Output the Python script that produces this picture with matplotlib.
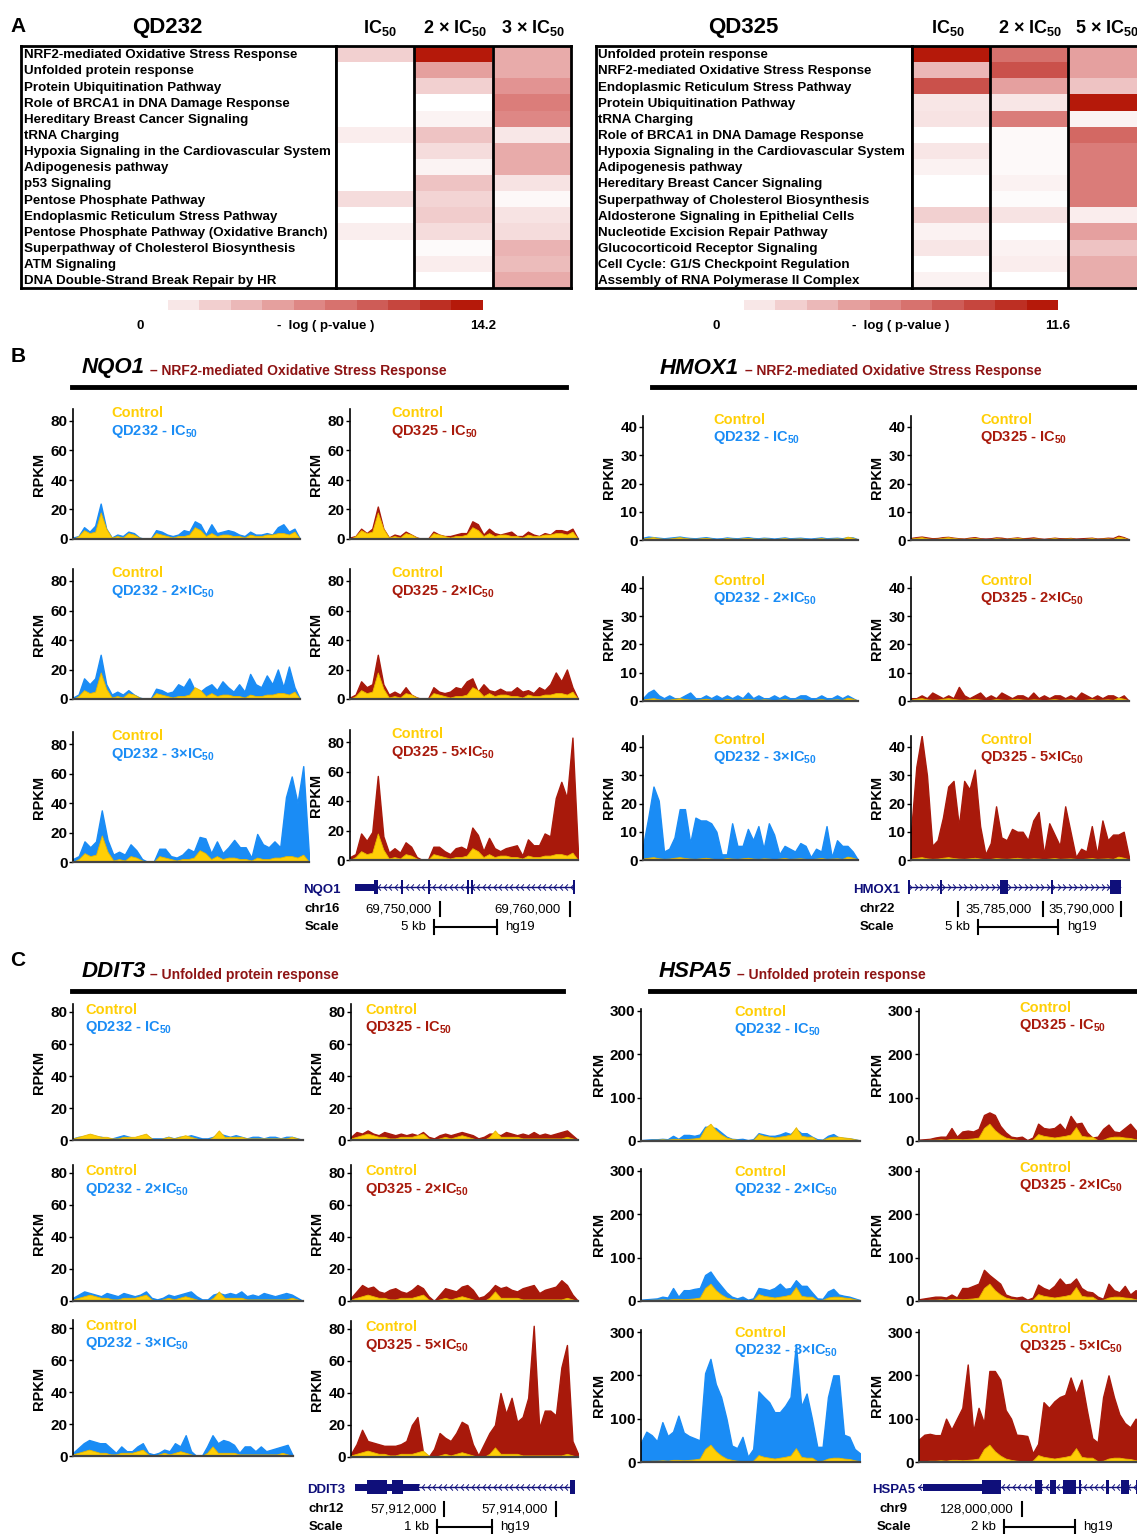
import numpy as np
import matplotlib
matplotlib.use('Agg')
import matplotlib.pyplot as plt
from matplotlib.colors import LinearSegmentedColormap
from matplotlib.patches import Rectangle
from matplotlib.lines import Line2D
from matplotlib.path import Path

plt.rcParams['font.family'] = ['Liberation Sans', 'DejaVu Sans']
plt.rcParams['mathtext.fontset'] = 'custom'
plt.rcParams['mathtext.rm'] = 'Liberation Sans'
plt.rcParams['mathtext.bf'] = 'Liberation Sans:bold'
plt.rcParams['mathtext.it'] = 'Liberation Sans:italic'

# ---------------- data: panel A (-log p-values) ----------------
qd232_pathways = [
    'NRF2-mediated Oxidative Stress Response', 'Unfolded protein response',
    'Protein Ubiquitination Pathway', 'Role of BRCA1 in DNA Damage Response',
    'Hereditary Breast Cancer Signaling', 'tRNA Charging',
    'Hypoxia Signaling in the Cardiovascular System', 'Adipogenesis pathway',
    'p53 Signaling', 'Pentose Phosphate Pathway', 'Endoplasmic Reticulum Stress Pathway',
    'Pentose Phosphate Pathway (Oxidative Branch)', 'Superpathway of Cholesterol Biosynthesis',
    'ATM Signaling', 'DNA Double-Strand Break Repair by HR']
qd232_ic50 = [2.8, 0, 0, 0, 0, 1.1, 0, 0, 0, 2.1, 0, 1.0, 0, 0, 0]
qd232_2x = [14.2, 5.7, 2.8, 0, 0.7, 3.6, 2.1, 0.7, 3.6, 2.6, 3.1, 2.1, 0.3, 1.1, 0]
qd232_3x = [5.0, 5.0, 6.4, 7.8, 7.1, 1.4, 5.0, 5.0, 1.7, 0.4, 1.7, 2.1, 4.5, 4.0, 5.0]
qd232_max = 14.2

qd325_pathways = [
    'Unfolded protein response', 'NRF2-mediated Oxidative Stress Response',
    'Endoplasmic Reticulum Stress Pathway', 'Protein Ubiquitination Pathway', 'tRNA Charging',
    'Role of BRCA1 in DNA Damage Response', 'Hypoxia Signaling in the Cardiovascular System',
    'Adipogenesis pathway', 'Hereditary Breast Cancer Signaling',
    'Superpathway of Cholesterol Biosynthesis', 'Aldosterone Signaling in Epithelial Cells',
    'Nucleotide Excision Repair Pathway', 'Glucocorticoid Receptor Signaling',
    'Cell Cycle: G1/S Checkpoint Regulation', 'Assembly of RNA Polymerase II Complex']
qd325_ic50 = [11.6, 3.5, 8.7, 1.2, 1.4, 0, 1.2, 0.6, 0, 0, 2.3, 0.6, 1.2, 0, 0.6]
qd325_2x = [7.0, 8.7, 4.6, 1.2, 6.4, 0.3, 0.3, 0.3, 0.6, 0.2, 1.4, 0, 0.6, 0.9, 0]
qd325_5x = [4.6, 4.6, 2.9, 11.6, 0.6, 7.5, 6.4, 6.4, 6.4, 6.4, 0.9, 4.6, 2.9, 4.0, 4.0]
qd325_max = 11.6

# ---------------- data: panels B / C (RPKM tracks) ----------------
nqo1_ctrl = [0, 2, 6, 4, 5, 18, 7, 1, 2, 1, 4, 3, 1, 0, 0, 4, 3, 2, 1, 2,
             2, 3, 8, 6, 2, 4, 2, 3, 3, 2, 2, 1, 3, 2, 2, 3, 3, 4, 4, 3, 5, 0]
nqo1_qd232 = [
    [1, 2, 8, 5, 9, 24, 7, 1, 3, 2, 5, 4, 1, 0, 0, 6, 5, 3, 2, 3,
     6, 5, 12, 10, 3, 10, 4, 5, 6, 5, 3, 2, 5, 3, 3, 4, 3, 8, 10, 5, 7, 0],
    [1, 3, 14, 10, 14, 30, 10, 3, 5, 3, 6, 3, 1, 0, 0, 7, 6, 4, 5, 10,
     8, 14, 6, 5, 8, 10, 6, 12, 8, 5, 10, 5, 17, 10, 8, 16, 10, 20, 8, 22, 8, 0],
    [2, 4, 14, 10, 14, 35, 15, 5, 7, 5, 12, 8, 2, 0, 0, 9, 9, 4, 3, 5,
     9, 7, 17, 16, 6, 14, 6, 10, 15, 10, 10, 3, 19, 12, 10, 14, 10, 44, 58, 40, 65, 4]]
nqo1_qd325 = [
    [1, 2, 7, 4, 7, 22, 7, 1, 3, 2, 5, 3, 1, 0, 0, 5, 3, 2, 2, 3,
     4, 4, 12, 10, 3, 7, 4, 3, 4, 5, 2, 2, 5, 3, 2, 4, 3, 6, 6, 5, 7, 0],
    [1, 3, 12, 8, 10, 30, 10, 3, 5, 3, 8, 3, 1, 0, 0, 8, 5, 4, 5, 8,
     7, 12, 14, 5, 10, 6, 5, 7, 5, 5, 8, 5, 6, 4, 8, 6, 10, 18, 12, 20, 8, 0],
    [2, 4, 18, 13, 19, 57, 16, 5, 8, 5, 12, 9, 2, 0, 0, 9, 9, 6, 4, 8,
     9, 7, 22, 17, 6, 15, 8, 6, 8, 9, 10, 3, 14, 10, 10, 18, 16, 42, 53, 42, 83, 5]]

hmox1_ctrl = [0.5, 0.8, 1, 0.6, 0.4, 0.5, 0.8, 1, 0.7, 0.5, 0.4, 0.6, 0.8, 0.5, 0.3, 0.4,
              0.7, 0.5, 0.4, 0.6, 0.8, 0.5, 0.4, 0.6, 0.5, 0.3, 0.5, 0.7, 0.4, 0.5, 0.6,
              0.4, 0.3, 0.5, 0.7, 0.4, 0.5, 0.6, 0.4, 1.2, 0.8, 0.2]
hmox1_qd232 = [
    [0.8, 1.2, 1, 0.8, 0.6, 0.8, 1, 1.2, 0.9, 0.7, 0.6, 0.8, 1, 0.7, 0.5, 0.6, 0.9, 0.7,
     0.6, 0.8, 1, 0.7, 0.6, 0.8, 0.7, 0.5, 0.7, 0.9, 0.6, 0.7, 0.8, 0.6, 0.5, 0.7, 0.9,
     0.6, 0.7, 0.8, 0.6, 1, 0.9, 0.2],
    [1, 3, 4, 2, 1, 2, 1, 1, 2, 3, 1, 1, 2, 1, 2, 1, 2, 1, 2, 1,
     3, 1, 2, 1, 1, 2, 1, 2, 1, 1, 2, 2, 1, 1, 2, 1, 1, 2, 1, 2, 1, 0],
    [5, 15, 26, 21, 3, 4, 8, 18, 18, 6, 15, 14, 14, 13, 10, 2, 2, 13, 5, 5,
     11, 7, 12, 4, 13, 9, 2, 5, 4, 3, 6, 5, 1, 4, 3, 12, 1, 7, 5, 5, 3, 0]]
hmox1_qd325 = [
    [0.7, 1, 1.2, 0.9, 0.6, 0.7, 1, 1.1, 0.8, 0.6, 0.5, 0.8, 1, 0.6, 0.5, 0.6, 0.9, 0.8,
     0.5, 0.7, 0.9, 0.6, 0.7, 0.9, 0.6, 0.4, 0.6, 0.8, 0.6, 0.6, 0.7, 0.5, 0.6, 0.7, 0.8,
     0.5, 0.6, 0.8, 0.7, 1.5, 1, 0.2],
    [1, 1, 2, 1, 3, 2, 1, 2, 1, 5, 2, 1, 2, 3, 1, 2, 1, 3, 2, 1,
     2, 2, 1, 3, 1, 2, 1, 2, 2, 1, 2, 1, 3, 2, 1, 2, 1, 2, 2, 1, 2, 0],
    [10, 33, 44, 30, 5, 7, 15, 26, 28, 12, 28, 25, 32, 12, 2, 6, 19, 8, 7, 11,
     10, 10, 7, 14, 17, 2, 13, 9, 5, 19, 10, 1, 4, 3, 12, 2, 14, 7, 9, 9, 10, 1]]

ddit3_ctrl = [1, 2, 3, 4, 3, 2, 2, 1, 1, 2, 2, 2, 3, 4, 1, 0, 1, 2, 1, 2,
              3, 2, 1, 0, 0, 2, 6, 2, 2, 2, 2, 1, 1, 1, 1, 1, 1, 1, 1, 2, 1, 0]
ddit3_qd232 = [
    [1, 2, 2, 3, 2, 2, 1, 1, 2, 3, 2, 1, 2, 3, 1, 1, 1, 2, 1, 2,
     2, 3, 2, 1, 1, 2, 4, 3, 2, 3, 2, 1, 2, 2, 1, 2, 2, 1, 2, 2, 1, 0],
    [2, 4, 6, 5, 4, 3, 5, 4, 3, 5, 4, 3, 4, 6, 2, 1, 2, 4, 3, 4,
     5, 6, 3, 1, 1, 4, 5, 4, 5, 4, 6, 3, 4, 3, 5, 4, 3, 4, 5, 4, 2, 0],
    [2, 5, 8, 10, 9, 8, 8, 5, 2, 6, 3, 3, 6, 8, 2, 1, 2, 4, 3, 8,
     6, 13, 3, 0, 0, 6, 13, 8, 10, 9, 7, 2, 6, 6, 3, 6, 3, 4, 5, 6, 7, 0]]
ddit3_qd325 = [
    [2, 5, 4, 6, 4, 3, 5, 4, 3, 4, 3, 4, 3, 5, 2, 1, 3, 4, 3, 4,
     5, 4, 3, 1, 2, 4, 4, 3, 5, 4, 3, 4, 3, 5, 3, 4, 3, 4, 5, 6, 3, 0],
    [2, 6, 10, 8, 9, 6, 5, 7, 8, 6, 5, 7, 10, 8, 3, 0, 4, 8, 7, 6,
     9, 10, 7, 2, 3, 6, 10, 8, 9, 7, 6, 8, 9, 10, 5, 7, 8, 9, 13, 10, 4, 0],
    [2, 8, 17, 10, 9, 8, 7, 7, 7, 8, 10, 20, 25, 3, 0, 5, 15, 12, 10, 15,
     22, 20, 8, 1, 8, 15, 20, 40, 27, 37, 22, 25, 37, 82, 18, 29, 29, 26, 56, 70, 10, 2]]

hspa5_ctrl = [2, 2, 3, 3, 4, 3, 5, 5, 4, 5, 6, 8, 30, 40, 25, 15, 8, 5, 3, 2,
              1, 3, 16, 12, 10, 8, 10, 12, 15, 32, 12, 10, 10, 2, 3, 8, 10, 10, 8, 7, 4, 2]
hspa5_qd232 = [
    [2, 3, 4, 4, 5, 4, 12, 5, 14, 14, 12, 15, 33, 32, 30, 20, 10, 5, 4, 5,
     2, 4, 18, 15, 12, 12, 15, 20, 16, 28, 18, 18, 10, 4, 3, 12, 16, 8, 7, 6, 4, 1],
    [3, 4, 5, 6, 10, 8, 30, 10, 25, 25, 28, 30, 60, 68, 50, 35, 20, 10, 6, 10,
     3, 6, 30, 28, 25, 30, 40, 28, 30, 48, 35, 35, 20, 6, 5, 22, 28, 15, 12, 10, 6, 2],
    [45, 70, 62, 48, 92, 60, 70, 107, 68, 60, 55, 50, 205, 238, 180, 150, 100, 38, 32, 58,
     12, 30, 163, 150, 138, 115, 115, 130, 150, 272, 128, 158, 100, 35, 35, 150, 200, 200,
     63, 58, 30, 20]]
hspa5_qd325 = [
    [3, 4, 5, 8, 10, 10, 30, 10, 22, 24, 22, 28, 60, 66, 60, 35, 20, 10, 8, 10,
     2, 8, 40, 30, 28, 30, 40, 25, 58, 40, 42, 20, 8, 10, 28, 38, 22, 20, 30, 40, 25, 15],
    [4, 6, 8, 10, 10, 8, 15, 8, 30, 30, 35, 40, 72, 60, 50, 40, 15, 10, 8, 10,
     3, 8, 38, 30, 25, 35, 52, 38, 40, 52, 30, 22, 20, 10, 5, 40, 25, 20, 35, 15, 25, 15],
    [52, 63, 65, 62, 62, 100, 75, 100, 125, 225, 70, 125, 90, 210, 210, 190, 120, 100, 63, 62,
     60, 20, 42, 138, 125, 140, 150, 155, 195, 158, 190, 120, 55, 45, 150, 200, 150, 110, 90, 80,
     100, 90]]

qd232_labels = ['QD232 - IC', 'QD232 - 2×IC', 'QD232 - 3×IC']
qd325_labels = ['QD325 - IC', 'QD325 - 2×IC', 'QD325 - 5×IC']

# gene models: (start, end, kind) as fraction of the drawn locus
nqo1_exons = [(0, 0.086, 'utr'), (0.086, 0.105, 'cds'), (0.21, 0.22, 'cds'), (0.33, 0.34, 'cds'),
              (0.51, 0.52, 'cds'), (0.525, 0.535, 'cds'), (0.99, 1.0, 'cds')]
hmox1_exons = [(0, 0.01, 'cds'), (0.15, 0.16, 'cds'), (0.43, 0.47, 'cds'),
               (0.67, 0.68, 'cds'), (0.95, 1.0, 'cds')]
ddit3_exons = [(0, 0.055, 'utr'), (0.055, 0.145, 'cds'), (0.145, 0.17, 'utr'),
               (0.17, 0.218, 'cds'), (0.218, 0.29, 'utr'), (0.975, 1.0, 'cds')]
hspa5_exons = [(0.02, 0.28, 'utr'), (0.28, 0.365, 'cds'), (0.515, 0.545, 'cds'),
               (0.58, 0.61, 'cds'), (0.64, 0.695, 'cds'), (0.71, 0.716, 'cds'),
               (0.83, 0.843, 'cds'), (0.896, 0.93, 'cds'), (0.96, 1.0, 'cds')]

BLUE = '#1A8CF5'
RED = '#A8190B'
GOLD = '#FFCF06'
NAVY = '#0F0F7A'
TITLE_RED = '#8E1414'

heat_cmap = LinearSegmentedColormap.from_list(
    'pval', ['#FFFFFF', '#EFC4C4', '#DF8886', '#CB524C', '#B5190A'])

W, H = 1137, 1534
fig = plt.figure(figsize=(W / 100, H / 100), dpi=100)


def ax_px(x0, y0, x1, y1):
    return fig.add_axes([x0 / W, 1 - y1 / H, (x1 - x0) / W, (y1 - y0) / H])


def txt(x, y, s, **kw):
    kw.setdefault('va', 'center')
    fig.text(x / W, 1 - y / H, s, **kw)


def fline(x0, y0, x1, y1, **kw):
    fig.add_artist(Line2D([x0 / W, x1 / W], [1 - y0 / H, 1 - y1 / H], **kw))


def sub50(s):
    return s + r'$_{\mathbf{50}}$'


# ---------------- panel A ----------------
def heat_table(x0, xd, x1, y0, y1, names, cols, vmax):
    n = len(names)
    ax = ax_px(x0, y0, xd, y1)
    ax.set_xlim(0, 1)
    ax.set_ylim(n, 0)
    ax.set_xticks([])
    ax.set_yticks([])
    for s in ax.spines.values():
        s.set_linewidth(2)
    for i, name in enumerate(names):
        ax.text(2.5 / (xd - x0), i + 0.58, name, va='center', ha='left',
                fontsize=9.6, fontweight='bold')
    ah = ax_px(xd, y0, x1, y1)
    vals = np.array(cols).T
    ah.imshow(vals, cmap=heat_cmap, vmin=0, vmax=vmax, aspect='auto',
              interpolation='nearest', extent=(0, len(cols), n, 0))
    for k in range(1, len(cols)):
        ah.axvline(k, color='black', lw=2)
    ah.set_xticks([])
    ah.set_yticks([])
    for s in ah.spines.values():
        s.set_linewidth(2)


def colorbar(x0, x1, y, vmax):
    ax = ax_px(x0, y - 5, x1, y + 5)
    steps = np.arange(1, 11) / 10
    ax.imshow(steps[None, :], cmap=heat_cmap, vmin=0, vmax=1, aspect='auto',
              interpolation='nearest', extent=(0, 10, 0, 1))
    ax.axis('off')
    txt(x0 - 28, y + 21, '0', ha='center', fontsize=9.5, fontweight='bold')
    txt((x0 + x1) / 2, y + 21, '-  log ( p-value )', ha='center', fontsize=9.5, fontweight='bold')
    txt(x1, y + 21, f'{vmax}', ha='center', fontsize=9.5, fontweight='bold')


txt(18, 26, 'A', fontsize=15, fontweight='bold', ha='center')
txt(167, 27, 'QD232', fontsize=16, fontweight='bold', ha='center')
for x, s in zip([380, 455, 533], ['IC', '2 × IC', '3 × IC']):
    txt(x, 28, sub50(s), fontsize=13, fontweight='bold', ha='center')
heat_table(21, 336, 571, 46, 288, qd232_pathways, [qd232_ic50, qd232_2x, qd232_3x], qd232_max)
colorbar(168, 483, 305, qd232_max)

txt(743, 27, 'QD325', fontsize=16, fontweight='bold', ha='center')
for x, s in zip([948, 1030, 1107], ['IC', '2 × IC', '5 × IC']):
    txt(x, 28, sub50(s), fontsize=13, fontweight='bold', ha='center')
heat_table(596, 912, 1146, 46, 288, qd325_pathways, [qd325_ic50, qd325_2x, qd325_5x], qd325_max)
colorbar(744, 1058, 305, qd325_max)


# ---------------- panels B / C ----------------
def gene_title(x, y, name, sub, subx, lx0, lx1):
    txt(x, y, name, fontsize=16, fontweight='bold', fontstyle='italic', ha='left')
    txt(subx, y + 3, '– ' + sub, fontsize=10, fontweight='bold', color=TITLE_RED, ha='left')
    fline(lx0, y + 19, lx1, y + 19, color='black', lw=3.5)


def track(x0, x1, yz, ppu, ymax, ticks, treated, ctrl, color, label, legdx, legdy):
    top = yz - ymax * ppu
    ax = ax_px(x0, top, x1, yz)
    x = np.arange(len(treated))
    ax.fill_between(x, 0, treated, facecolor=color, edgecolor=color, lw=1.0)
    ax.fill_between(x, 0, ctrl, facecolor=GOLD, edgecolor='#E8B600', lw=0.6)
    ax.set_xlim(0, len(treated) - 1)
    ax.set_ylim(0, ymax)
    ax.spines['top'].set_visible(False)
    ax.spines['right'].set_visible(False)
    ax.spines['bottom'].set_color('#444444')
    ax.spines['bottom'].set_linewidth(1.6)
    ax.spines['left'].set_linewidth(1.2)
    ax.set_xticks([])
    ax.set_yticks(ticks)
    ax.tick_params(axis='y', length=3, width=1, pad=1, labelsize=11)
    for t in ax.get_yticklabels():
        t.set_fontweight('bold')
    ax.set_ylabel('RPKM', fontsize=10.5, fontweight='bold', labelpad=3)
    txt(x0 + legdx, top + legdy, 'Control', color=GOLD, fontsize=10.5, fontweight='bold', ha='left')
    txt(x0 + legdx, top + legdy + 18, sub50(label), color=color, fontsize=10.5,
        fontweight='bold', ha='left')


def gene_model(x0, x1, y, exons, strand):
    ax = ax_px(x0, y - 7, x1, y + 7)
    ax.set_xlim(0, 1)
    ax.set_ylim(-1, 1)
    ax.axis('off')
    ax.plot([0, 1], [0, 0], color=NAVY, lw=1)
    d = 0.4 if strand == '-' else -0.4
    chev = Path([(d, 0.9), (-d, 0), (d, -0.9)], [Path.MOVETO, Path.LINETO, Path.LINETO])
    xs = np.arange(0.01, 1, 5.5 / (x1 - x0))
    ax.plot(xs, np.zeros_like(xs), ls='none', marker=chev, ms=4.5, mec=NAVY,
            mfc='none', mew=0.7)
    for s, e, kind in exons:
        h = 0.5 if kind == 'utr' else 1.0
        ax.add_patch(Rectangle((s, -h), e - s, 2 * h, color=NAVY, lw=0))


def locus_text(labx, y, name, chrom, coords, bar, kb, hgx):
    txt(labx, y, name, color=NAVY, fontsize=9.5, fontweight='bold', ha='center')
    txt(labx, y + 19, chrom, fontsize=9.5, fontweight='bold', ha='center')
    txt(labx, y + 37, 'Scale', fontsize=9.5, fontweight='bold', ha='center')
    for s, tx, ha, tickx in coords:
        if s:
            txt(tx, y + 19, s, fontsize=9.5, ha=ha)
        fline(tickx, y + 12, tickx, y + 26, color='black', lw=1.5)
    yb = y + 37
    fline(bar[0], yb, bar[1], yb, color='black', lw=1.5)
    fline(bar[0], yb - 7, bar[0], yb + 7, color='black', lw=1.5)
    fline(bar[1], yb - 7, bar[1], yb + 7, color='black', lw=1.5)
    txt(bar[0] - 8, yb, kb, fontsize=9.5, ha='right')
    txt(hgx, yb, 'hg19', fontsize=9.5, ha='left')


txt(18, 357, 'B', fontsize=15, fontweight='bold', ha='center')
txt(18, 960, 'C', fontsize=15, fontweight='bold', ha='center')

# NQO1
gene_title(82, 368, 'NQO1', 'NRF2-mediated Oxidative Stress Response', 150, 72, 566)
nqo1_rows = [(539, 539, 300), (699, 699, 300), (862, 860, 309)]
for r, (yl, yr, xr) in enumerate(nqo1_rows):
    track(73, xr, yl, 118 / 80, 88, [0, 20, 40, 60, 80], nqo1_qd232[r], nqo1_ctrl,
          BLUE, qd232_labels[r], 38, 4)
    track(350, 578, yr, 118 / 80, 88, [0, 20, 40, 60, 80], nqo1_qd325[r], nqo1_ctrl,
          RED, qd325_labels[r], 41, 4)
gene_model(355, 575, 887, nqo1_exons, '-')
locus_text(322, 890, 'NQO1', 'chr16',
           [('69,750,000', 432, 'right', 440), ('69,760,000', 561, 'right', 570)],
           (434, 497), '5 kb', 505)

# HMOX1
gene_title(660, 368, 'HMOX1', 'NRF2-mediated Oxidative Stress Response', 745, 652, 1140)
for r, yz in enumerate([540, 701, 860]):
    track(643, 858, yz, 113 / 40, 44, [0, 10, 20, 30, 40], hmox1_qd232[r], hmox1_ctrl,
          BLUE, qd232_labels[r], 70, 4)
    track(911, 1129, yz, 113 / 40, 44, [0, 10, 20, 30, 40], hmox1_qd325[r], hmox1_ctrl,
          RED, qd325_labels[r], 69, 4)
gene_model(908, 1121, 887, hmox1_exons, '+')
locus_text(877, 890, 'HMOX1', 'chr22',
           [('35,785,000', 965, 'left', 958), ('35,790,000', 1048, 'left', 1043),
            ('', 0, 'left', 1121)],
           (978, 1058), '5 kb', 1067)

# DDIT3
gene_title(82, 972, 'DDIT3', 'Unfolded protein response', 150, 72, 563)
ddit3_rows = [(1140, 1140, 303), (1301, 1301, 303), (1456, 1457, 293)]
for r, (yl, yr, xr) in enumerate(ddit3_rows):
    track(73, xr, yl, 128 / 80, 85, [0, 20, 40, 60, 80], ddit3_qd232[r], ddit3_ctrl,
          BLUE, qd232_labels[r], 12, 6)
    track(351, 578, yr, 128 / 80, 85, [0, 20, 40, 60, 80], ddit3_qd325[r], ddit3_ctrl,
          RED, qd325_labels[r], 14, 6)
gene_model(355, 575, 1487, ddit3_exons, '-')
locus_text(326, 1490, 'DDIT3', 'chr12',
           [('57,912,000', 437, 'right', 444), ('57,914,000', 548, 'right', 556)],
           (437, 492), '1 kb', 500)

# HSPA5
gene_title(659, 972, 'HSPA5', 'Unfolded protein response', 737, 650, 1140)
for r, yz in enumerate([1141, 1301, 1462]):
    track(641, 860, yz, 130 / 300, 305, [0, 100, 200, 300], hspa5_qd232[r], hspa5_ctrl,
          BLUE, qd232_labels[r], 93, 3)
    track(919, 1141, yz, 130 / 300, 305, [0, 100, 200, 300], hspa5_qd325[r], hspa5_ctrl,
          RED, qd325_labels[r], 100, -1)
gene_model(918, 1145, 1487, hspa5_exons, '-')
locus_text(894, 1490, 'HSPA5', 'chr9',
           [('128,000,000', 1014, 'right', 1022)],
           (1004, 1075), '2 kb', 1083)

fig.savefig('out.png', dpi=100)
